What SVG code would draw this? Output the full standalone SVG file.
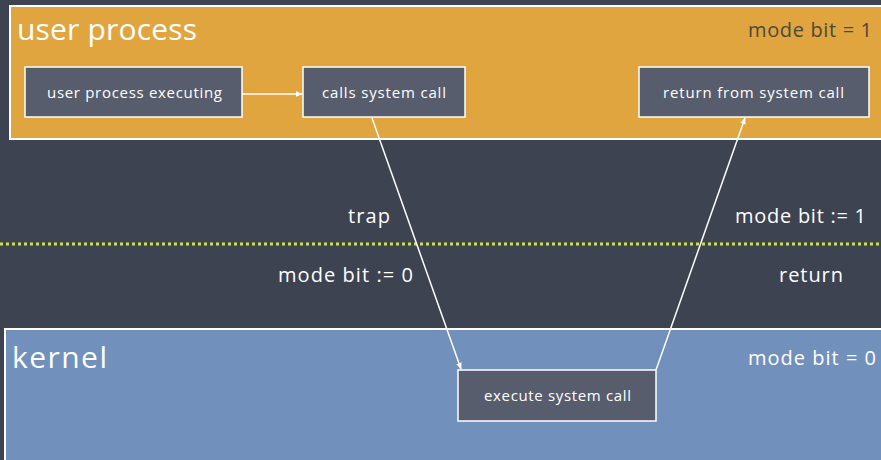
<svg xmlns="http://www.w3.org/2000/svg" width="881" height="460" viewBox="0 0 881 460">
<style>
  .panel-u { fill: #e1a53f; stroke: #ffffff; stroke-width: 2; }
  .panel-k { fill: #7190bc; stroke: #ffffff; stroke-width: 2; }
  .box { fill: #575d6d; stroke: #ffffff; stroke-width: 1.5; }
  .btxt { font-family: "Open Sans", "Liberation Sans", sans-serif; font-size: 15px; fill: #ffffff; }
  .big { font-family: "Open Sans", "Liberation Sans", sans-serif; font-size: 30px; fill: #ffffff; }
  .lbl { font-family: "Open Sans", "Liberation Sans", sans-serif; font-size: 20px; fill: #ffffff; }
  .dark { fill: #4a4a3c; }
  .conn { stroke: #ffffff; stroke-width: 1.5; fill: none; marker-end: url(#ah); }
</style>
<defs>
  <marker id="ah" viewBox="0 0 10 10" refX="9" refY="5" markerWidth="7" markerHeight="7" orient="auto" markerUnits="userSpaceOnUse">
    <path d="M0,1 L10,5 L0,9 z" fill="#ffffff"/>
  </marker>
</defs>
<rect x="0" y="0" width="881" height="460" fill="#3e4351"/>

<g id="user-panel">
  <rect class="panel-u" x="10" y="6" width="880" height="133"/>
  <text class="big" x="17" y="40" textLength="180" lengthAdjust="spacing">user process</text>
  <text class="lbl dark" x="748" y="37" textLength="124" lengthAdjust="spacing">mode bit = 1</text>
</g>

<g id="kernel-panel">
  <rect class="panel-k" x="5" y="329" width="885" height="140"/>
  <text class="big" x="12" y="368" textLength="95" lengthAdjust="spacing">kernel</text>
  <text class="lbl" x="748" y="365" textLength="128" lengthAdjust="spacing">mode bit = 0</text>
</g>

<g id="divider">
  <line x1="0" y1="244" x2="881" y2="244" stroke="#c9e14b" stroke-width="3" stroke-dasharray="3,3"/>
</g>

<g id="n-executing">
  <rect class="box" x="25" y="67" width="217" height="50"/>
  <text class="btxt" x="47" y="98" textLength="175" lengthAdjust="spacing">user process executing</text>
</g>
<g id="n-calls">
  <rect class="box" x="303" y="67" width="162" height="50"/>
  <text class="btxt" x="322" y="98" textLength="124" lengthAdjust="spacing">calls system call</text>
</g>
<g id="n-return">
  <rect class="box" x="639" y="67" width="230" height="50"/>
  <text class="btxt" x="663" y="98" textLength="181" lengthAdjust="spacing">return from system call</text>
</g>
<g id="n-execute">
  <rect class="box" x="458" y="370" width="198" height="51"/>
  <text class="btxt" x="484" y="401" textLength="147" lengthAdjust="spacing">execute system call</text>
</g>

<g id="connectors">
  <line class="conn" x1="242" y1="94" x2="302" y2="94"/>
  <line class="conn" x1="372" y1="118" x2="461" y2="369"/>
  <line class="conn" x1="656" y1="370" x2="745" y2="118"/>
</g>

<g id="labels">
  <text class="lbl" x="348" y="223" textLength="42" lengthAdjust="spacing">trap</text>
  <text class="lbl" x="278" y="282" textLength="135" lengthAdjust="spacing">mode bit := 0</text>
  <text class="lbl" x="735" y="223" textLength="131" lengthAdjust="spacing">mode bit := 1</text>
  <text class="lbl" x="779" y="282" textLength="64" lengthAdjust="spacing">return</text>
</g>
</svg>
